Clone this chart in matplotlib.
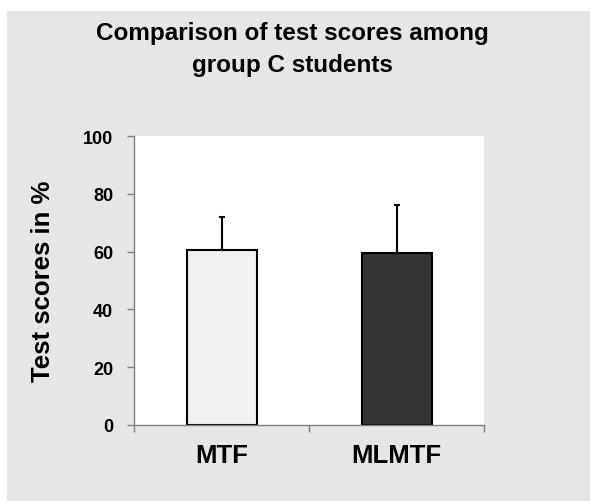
import matplotlib.pyplot as plt
from matplotlib.patches import Rectangle

groups = ["MTF", "MLMTF"]
scores = [60.5, 59.5]
err_up = [11.5, 16.5]
bar_colors = ["#f0f0f0", "#333333"]
yticks = [0, 20, 40, 60, 80, 100]

plt.rcParams["font.family"] = ["Liberation Sans", "DejaVu Sans"]
plt.rcParams["font.weight"] = "bold"

fig = plt.figure(figsize=(5.9, 5.02), dpi=100, facecolor="white")
# grey panel behind everything (white strip on top and left)
fig.patches.append(Rectangle((7 / 590, 0), 1, 1 - 12 / 502, transform=fig.transFigure,
                             facecolor="#e6e6e6", edgecolor="none", zorder=-10))

ax = fig.add_axes([134 / 590, 1 - 426 / 502, 350 / 590, 289 / 502])
ax.set_facecolor("white")

x = range(len(groups))
ax.bar(x, scores, width=0.4, color=bar_colors, edgecolor="black", linewidth=1.5, zorder=2)
ax.errorbar(x, scores, yerr=[[0, 0], err_up], fmt="none", ecolor="black",
            elinewidth=1.5, capsize=2, capthick=1.5, zorder=1)

ax.set_xlim(-0.5, 1.5)
ax.set_ylim(0, 100)
ax.set_yticks(yticks)
ax.set_yticklabels([str(v) for v in yticks], fontsize=13, fontweight="bold")
ax.set_xticks([-0.5, 0.5, 1.5])
ax.set_xticklabels([])
ax.set_xticks(list(x), minor=True)
ax.set_xticklabels(groups, minor=True, fontsize=18.5, fontweight="bold")
ax.tick_params(axis="x", which="minor", length=0, pad=13)
ax.tick_params(axis="both", which="major", length=5, color="#808080", width=1)
ax.tick_params(axis="y", pad=10)

for s in ["top", "right"]:
    ax.spines[s].set_visible(False)
for s in ["left", "bottom"]:
    ax.spines[s].set_color("#808080")
    ax.spines[s].set_linewidth(1)

ax.set_ylabel("Test scores in %", fontsize=18.5, fontweight="bold")
ax.yaxis.set_label_coords(-0.225, 0.5)

fig.text(0.495, 1 - 22 / 502, "Comparison of test scores among\ngroup C students",
         ha="center", va="top", fontsize=17.5, fontweight="bold", linespacing=1.5)

fig.savefig("out.png", dpi=100, facecolor="white")
